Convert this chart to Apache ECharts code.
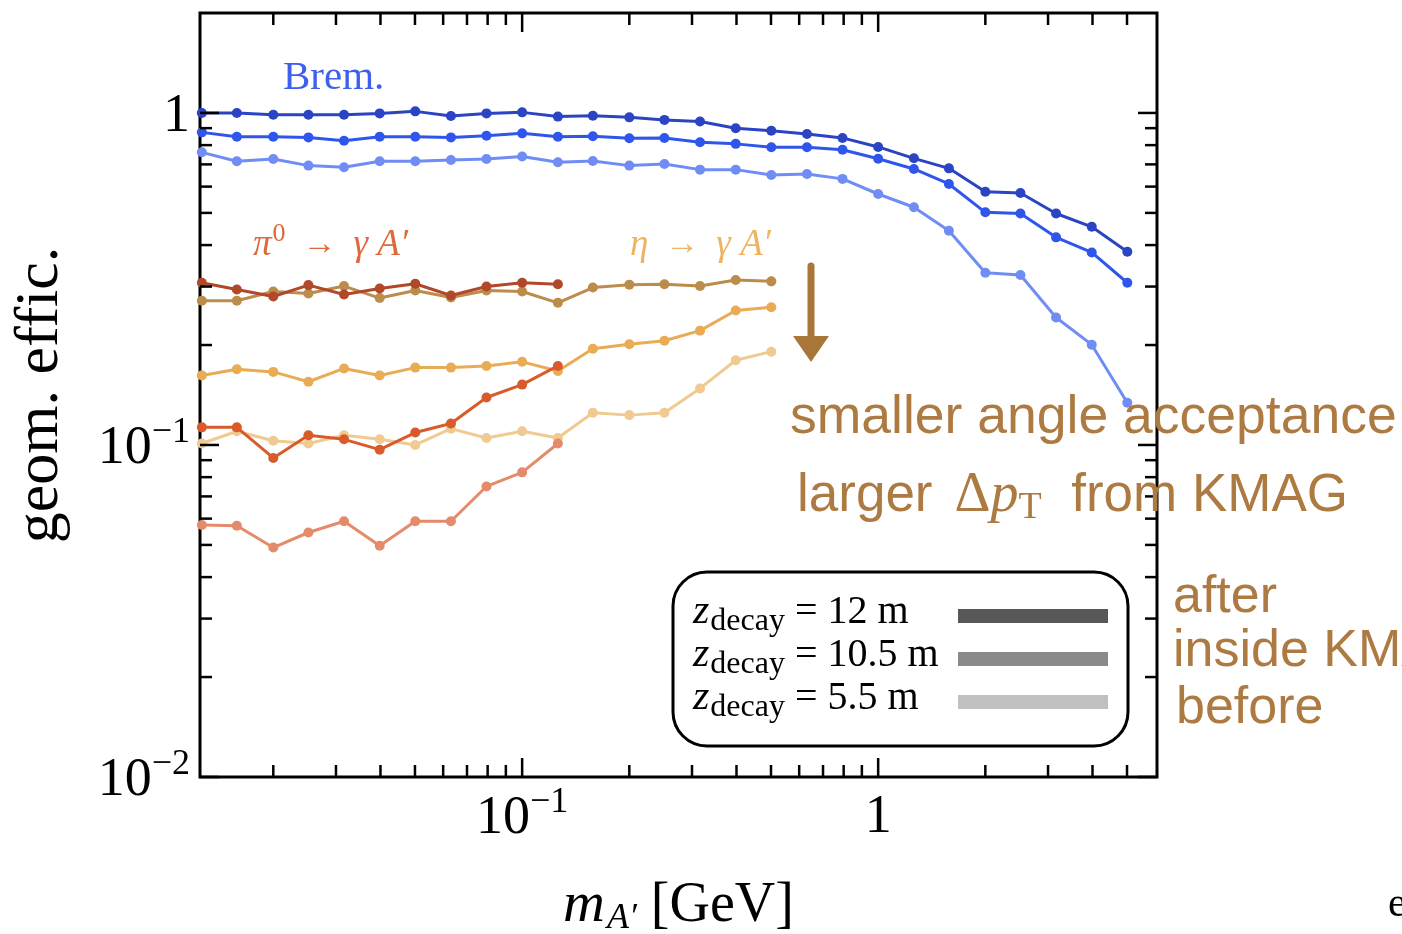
<!DOCTYPE html>
<html><head><meta charset="utf-8">
<script src="https://cdn.jsdelivr.net/npm/echarts@6/dist/echarts.min.js"></script>
<style>html,body{margin:0;padding:0;background:#fff}#c{width:1402px;height:934px}</style>
</head><body><div id="c"></div>
<script>
// ---- data ----
const masses = [0.0126,0.0158,0.02,0.0251,0.0316,0.0398,0.0501,0.0631,0.0794,0.1,0.126,0.158,0.2,0.251,0.316,0.398,0.501,0.631,0.794,1,1.26,1.58,2,2.51,3.16,3.98,5.01];
const bremZ12  = [1.00,1.00,0.988,0.988,0.988,0.997,1.011,0.979,0.997,1.004,0.975,0.981,0.970,0.953,0.942,0.899,0.884,0.864,0.841,0.790,0.730,0.681,0.579,0.574,0.498,0.454,0.382];
const bremZ105 = [0.874,0.848,0.848,0.844,0.825,0.848,0.848,0.844,0.854,0.868,0.848,0.851,0.839,0.841,0.816,0.807,0.788,0.788,0.775,0.728,0.678,0.611,0.502,0.498,0.422,0.380,0.308];
const bremZ55  = [0.761,0.715,0.727,0.694,0.686,0.715,0.715,0.722,0.727,0.739,0.710,0.717,0.694,0.702,0.675,0.675,0.650,0.655,0.633,0.570,0.520,0.442,0.330,0.325,0.242,0.2005,0.134];
const etaZ12   = [0.272,0.272,0.290,0.286,0.301,0.277,0.292,0.278,0.292,0.290,0.268,0.298,0.304,0.305,0.301,0.314,0.311];
const etaZ105  = [0.162,0.169,0.166,0.155,0.170,0.162,0.171,0.171,0.173,0.178,0.167,0.195,0.201,0.206,0.221,0.254,0.260];
const etaZ55   = [0.101,0.110,0.103,0.101,0.107,0.104,0.100,0.112,0.105,0.110,0.105,0.125,0.123,0.125,0.148,0.180,0.191];
const pi0Z12   = [0.308,0.294,0.280,0.303,0.284,0.296,0.306,0.282,0.300,0.308,0.305];
const pi0Z105  = [0.113,0.113,0.0914,0.107,0.104,0.0968,0.109,0.116,0.139,0.152,0.173];
const pi0Z55   = [0.0574,0.0571,0.0491,0.0545,0.0589,0.0497,0.0589,0.0589,0.075,0.0827,0.101];
const xMajorTicks = [0.1, 1];
const xMinorTicks = [0.02,0.03,0.04,0.05,0.06,0.07,0.08,0.09,0.2,0.3,0.4,0.5,0.6,0.7,0.8,0.9,2,3,4,5];
const yMajorTicks = [0.01, 0.1, 1];
const yMinorTicks = [0.02,0.03,0.04,0.05,0.06,0.07,0.08,0.09,0.2,0.3,0.4,0.5,0.6,0.7,0.8,0.9];
const legendLabels = ['12 m', '10.5 m', '5.5 m'];
const legendColors = ['#585858', '#8a8a8a', '#c0c0c0'];

// ---- styling ----
const SERIF = '"Liberation Serif", "DejaVu Serif", serif';
const SANS = '"Liberation Sans", Arial, sans-serif';
const BROWN = '#ad7a42';

function pairs(arr) { return arr.map((v, i) => [masses[i], v]); }
function lineSeries(name, arr, color, z) {
  return {
    name, type: 'line', data: pairs(arr), z: z,
    symbol: 'circle', symbolSize: 10, showSymbol: true,
    lineStyle: { color, width: 3 }, itemStyle: { color },
    emphasis: { disabled: true }, animation: false
  };
}

const tickData = [];
xMajorTicks.forEach(v => tickData.push([v, 1, 1, 0]));
xMinorTicks.forEach(v => tickData.push([v, 1, 0, 0]));
yMajorTicks.forEach(v => tickData.push([1, v, 1, 1]));
yMinorTicks.forEach(v => tickData.push([1, v, 0, 1]));

function tickLabel(v) {
  const l = Math.log10(v), e = Math.round(l);
  if (Math.abs(l - e) > 1e-6) return '';
  if (e === 0) return '{b|1}';
  return '{b|10}{s|\u2212' + (-e) + '}';
}
const xTickRich = {
  b: { fontFamily: SERIF, fontSize: 54, color: '#000', padding: [6, 0, 0, 0] },
  s: { fontFamily: SERIF, fontSize: 36, color: '#000', padding: [0, 0, 26, 0] }
};
const yTickRich = {
  b: { fontFamily: SERIF, fontSize: 54, color: '#000', padding: [8, 0, 0, 0] },
  s: { fontFamily: SERIF, fontSize: 36, color: '#000', padding: [0, 0, 24, 0] }
};

const chart = echarts.init(document.getElementById('c'), null, { renderer: 'canvas' });
const option = {
  animation: false,
  backgroundColor: '#fff',
  grid: { left: 200, top: 13, width: 957, height: 764, containLabel: false, outerBoundsMode: 'none',
          show: true, borderColor: '#000', borderWidth: 3, backgroundColor: 'transparent' },
  xAxis: {
    type: 'log', min: 0.01245, max: 6.07, logBase: 10,
    axisLine: { show: false }, axisTick: { show: false }, splitLine: { show: false }, minorTick: { show: false },
    axisLabel: { formatter: tickLabel, rich: xTickRich, margin: 8, showMinLabel: true, showMaxLabel: true, hideOverlap: false },
    name: '{i|m}{sub|A\u2032}{n| [GeV]}', nameLocation: 'middle', nameGap: 98,
    nameTextStyle: { rich: {
      i: { fontFamily: SERIF, fontStyle: 'italic', fontSize: 58, color: '#000' },
      sub: { fontFamily: SERIF, fontStyle: 'italic', fontSize: 36, color: '#000', padding: [26, 0, 0, 2] },
      n: { fontFamily: SERIF, fontSize: 56, color: '#000' }
    } }
  },
  yAxis: {
    type: 'log', min: 0.01, max: 2, logBase: 10,
    axisLine: { show: false }, axisTick: { show: false }, splitLine: { show: false }, minorTick: { show: false },
    axisLabel: { formatter: tickLabel, rich: yTickRich, margin: 10, showMinLabel: true, showMaxLabel: true, hideOverlap: false },
    name: 'geom. effic.', nameLocation: 'middle', nameGap: 128, nameRotate: 90,
    nameTextStyle: { fontFamily: SERIF, fontSize: 62, color: '#000' }
  },
  series: [
    lineSeries('Brem. z=12 m', bremZ12, '#2a44c4', 3),
    lineSeries('Brem. z=10.5 m', bremZ105, '#2f56ec', 3),
    lineSeries('Brem. z=5.5 m', bremZ55, '#6f8df4', 3),
    lineSeries('eta z=5.5 m', etaZ55, '#f0ca90', 4),
    lineSeries('eta z=10.5 m', etaZ105, '#eaab55', 4),
    lineSeries('eta z=12 m', etaZ12, '#bc8c4a', 4),
    lineSeries('pi0 z=5.5 m', pi0Z55, '#e48b6c', 5),
    lineSeries('pi0 z=10.5 m', pi0Z105, '#d95b2b', 5),
    lineSeries('pi0 z=12 m', pi0Z12, '#b1482a', 5),
    {
      type: 'custom', name: 'ticks', data: tickData, silent: true, clip: false, z: 10,
      encode: { x: 0, y: 1 },
      renderItem: function (params, api) {
        const cs = params.coordSys;
        const major = api.value(2) === 1, isY = api.value(3) === 1;
        const len = major ? 19 : 12;
        const st = { stroke: '#000', lineWidth: 2.5 };
        if (!isY) {
          const px = api.coord([api.value(0), 1])[0];
          return { type: 'group', children: [
            { type: 'line', shape: { x1: px, y1: cs.y + cs.height, x2: px, y2: cs.y + cs.height - len }, style: st },
            { type: 'line', shape: { x1: px, y1: cs.y, x2: px, y2: cs.y + len }, style: st }
          ] };
        } else {
          const py = api.coord([1, api.value(1)])[1];
          return { type: 'group', children: [
            { type: 'line', shape: { x1: cs.x, y1: py, x2: cs.x + len, y2: py }, style: st },
            { type: 'line', shape: { x1: cs.x + cs.width, y1: py, x2: cs.x + cs.width - len, y2: py }, style: st }
          ] };
        }
      }
    }
  ],
  graphic: [
    { type: 'text', x: 283, y: 78, z: 20, style: { text: 'Brem.', font: '41px ' + SERIF, fill: '#3d60ee', align: 'left', verticalAlign: 'middle' } },
    { type: 'text', x: 253, y: 245, z: 20, style: {
      text: '{i|\u03c0}{sup|0}{n|  \u2192  }{i|\u03b3 A\u2032}', align: 'left', verticalAlign: 'middle',
      rich: {
        i: { fontFamily: SERIF, fontStyle: 'italic', fontSize: 37, fill: '#de6a3b' },
        sup: { fontFamily: SERIF, fontSize: 26, fill: '#de6a3b', padding: [0, 0, 22, 1] },
        n: { fontFamily: SERIF, fontSize: 34, fill: '#de6a3b' }
      } } },
    { type: 'text', x: 630, y: 245, z: 20, style: {
      text: '{i|\u03b7}{n|  \u2192  }{i|\u03b3 A\u2032}', align: 'left', verticalAlign: 'middle',
      rich: {
        i: { fontFamily: SERIF, fontStyle: 'italic', fontSize: 37, fill: '#eeb462' },
        n: { fontFamily: SERIF, fontSize: 34, fill: '#eeb462' }
      } } },
    // arrow
    { type: 'line', z: 20, shape: { x1: 811, y1: 266, x2: 811, y2: 340 }, style: { stroke: '#a97639', lineWidth: 7, lineCap: 'round' } },
    { type: 'polygon', z: 20, shape: { points: [[793, 336], [829, 336], [811, 362]] }, style: { fill: '#a97639' } },
    // annotations
    { type: 'text', x: 790, y: 418, z: 20, style: { text: 'smaller angle acceptance', font: '53.5px ' + SANS, fill: BROWN, align: 'left', verticalAlign: 'middle' } },
    { type: 'text', x: 797, y: 496, z: 20, style: {
      text: '{s|larger}{d|\u0394}{p|p}{t|T}{s|  from KMAG}', align: 'left', verticalAlign: 'middle',
      rich: {
        s: { fontFamily: SANS, fontSize: 53, fill: BROWN },
        d: { fontFamily: SERIF, fontSize: 56, fill: BROWN, padding: [0, 0, 0, 22] },
        p: { fontFamily: SERIF, fontStyle: 'italic', fontSize: 56, fill: BROWN },
        t: { fontFamily: SERIF, fontSize: 38, fill: BROWN, padding: [24, 0, 0, 0] }
      } } },
    { type: 'text', x: 1173, y: 598, z: 20, style: { text: 'after', font: '52px ' + SANS, fill: BROWN, align: 'left', verticalAlign: 'middle' } },
    { type: 'text', x: 1173, y: 652, z: 20, style: { text: 'inside KMAG', font: '52px ' + SANS, fill: BROWN, align: 'left', verticalAlign: 'middle' } },
    { type: 'text', x: 1176, y: 709, z: 20, style: { text: 'before', font: '52px ' + SANS, fill: BROWN, align: 'left', verticalAlign: 'middle' } },
    { type: 'text', x: 1388, y: 905, z: 20, style: { text: 'e', font: '42px ' + SERIF, fill: '#000', align: 'left', verticalAlign: 'middle' } },
    // legend box
    { type: 'rect', z: 30, shape: { x: 673, y: 572, width: 455, height: 174, r: 34 }, style: { fill: '#fff', stroke: '#000', lineWidth: 3 } }
  ].concat(legendLabels.flatMap((lab, i) => [
    { type: 'text', x: 693, y: 612 + i * 43, z: 31, style: {
      text: '{z|z}{sub|decay}{n| = ' + lab + '}', align: 'left', verticalAlign: 'middle',
      rich: {
        z: { fontFamily: SERIF, fontStyle: 'italic', fontSize: 42, fill: '#000' },
        sub: { fontFamily: SERIF, fontSize: 32, fill: '#000', padding: [20, 0, 0, 1] },
        n: { fontFamily: SERIF, fontSize: 40, fill: '#000' }
      } } },
    { type: 'rect', z: 31, shape: { x: 958, y: 609 + i * 43, width: 150, height: 14 }, style: { fill: legendColors[i] } }
  ]))
};
chart.setOption(option);
</script>
</body></html>
